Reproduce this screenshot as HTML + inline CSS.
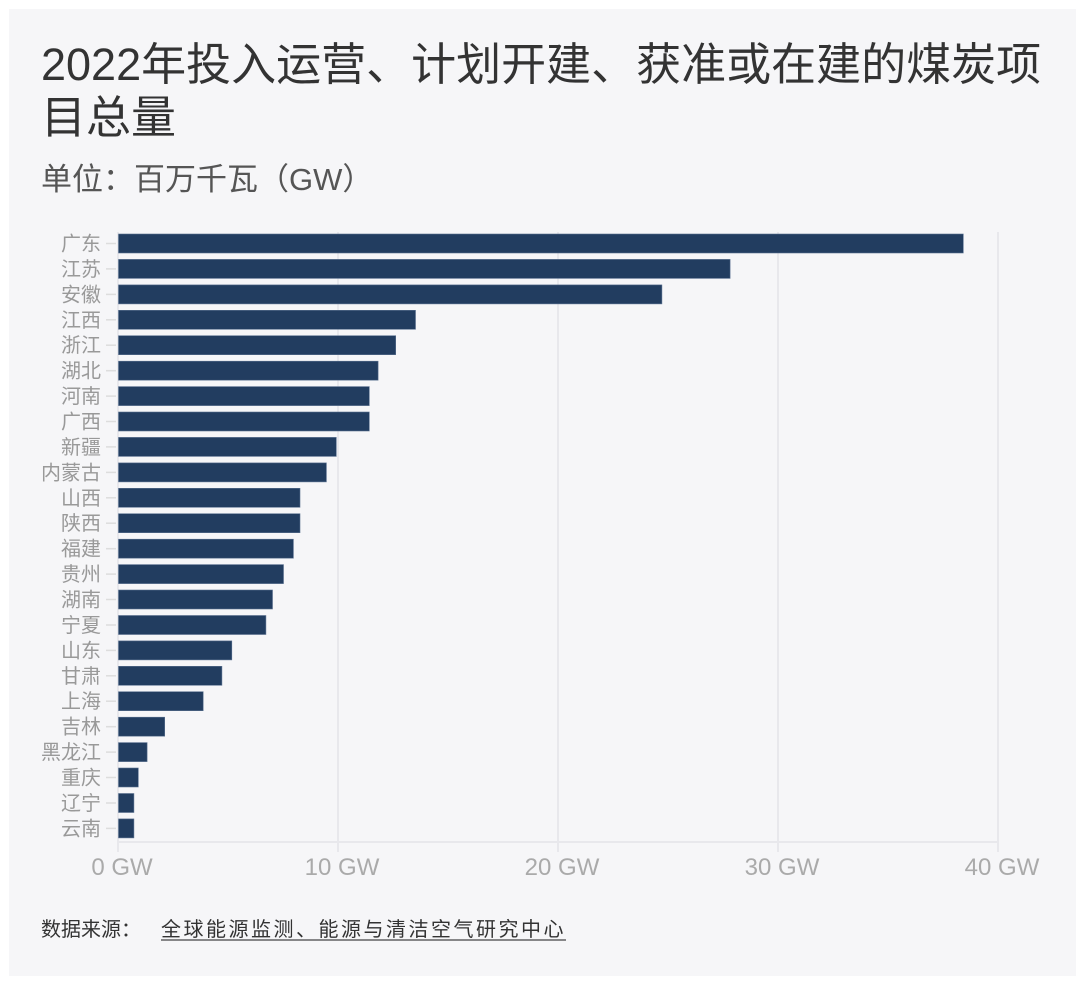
<!DOCTYPE html>
<html><head><meta charset="utf-8"><style>
html,body{margin:0;padding:0;background:#fff;}
svg{display:block;font-family:"Liberation Sans","Noto Sans CJK SC",sans-serif;}
</style></head><body>
<svg width="1080" height="985" viewBox="0 0 1080 985" xmlns="http://www.w3.org/2000/svg">
<rect x="9" y="9" width="1067" height="967" fill="#f6f6f8"/>
<text x="41" y="80" font-size="45" fill="#333">2022年投入运营、计划开建、获准或在建的煤炭项</text>
<text x="41" y="133" font-size="45" fill="#333">目总量</text>
<text x="41" y="190" font-size="31" fill="#555">单位：百万千瓦（GW）</text>
<g stroke="#e8e8ec" stroke-width="2">
<line x1="118" y1="232" x2="118" y2="852"/>
<line x1="338" y1="232" x2="338" y2="852"/>
<line x1="558" y1="232" x2="558" y2="852"/>
<line x1="778" y1="232" x2="778" y2="852"/>
<line x1="998" y1="232" x2="998" y2="852"/>
<line x1="118" y1="842" x2="998" y2="842"/>
</g>
<g fill="#223d60" stroke="#5a7190" stroke-width="0.6">
<rect x="118.5" y="234" width="844.8" height="19"/>
<rect x="118.5" y="259.4" width="611.6" height="19"/>
<rect x="118.5" y="284.9" width="543.4" height="19"/>
<rect x="118.5" y="310.3" width="297" height="19"/>
<rect x="118.5" y="335.7" width="277.2" height="19"/>
<rect x="118.5" y="361.2" width="259.6" height="19"/>
<rect x="118.5" y="386.6" width="250.8" height="19"/>
<rect x="118.5" y="412" width="250.8" height="19"/>
<rect x="118.5" y="437.4" width="217.8" height="19"/>
<rect x="118.5" y="462.9" width="207.9" height="19"/>
<rect x="118.5" y="488.3" width="181.5" height="19"/>
<rect x="118.5" y="513.7" width="181.5" height="19"/>
<rect x="118.5" y="539.2" width="174.9" height="19"/>
<rect x="118.5" y="564.6" width="165" height="19"/>
<rect x="118.5" y="590" width="154" height="19"/>
<rect x="118.5" y="615.5" width="147.4" height="19"/>
<rect x="118.5" y="640.9" width="113.3" height="19"/>
<rect x="118.5" y="666.3" width="103.4" height="19"/>
<rect x="118.5" y="691.7" width="84.7" height="19"/>
<rect x="118.5" y="717.2" width="46.2" height="19"/>
<rect x="118.5" y="742.6" width="28.6" height="19"/>
<rect x="118.5" y="768" width="19.8" height="19"/>
<rect x="118.5" y="793.5" width="15.4" height="19"/>
<rect x="118.5" y="818.9" width="15.4" height="19"/>
</g>
<g stroke="#ddd" stroke-width="1.5">
<line x1="106" x2="116" y1="243.5" y2="243.5"/><line x1="106" x2="116" y1="268.9" y2="268.9"/><line x1="106" x2="116" y1="294.4" y2="294.4"/><line x1="106" x2="116" y1="319.8" y2="319.8"/><line x1="106" x2="116" y1="345.2" y2="345.2"/><line x1="106" x2="116" y1="370.7" y2="370.7"/><line x1="106" x2="116" y1="396.1" y2="396.1"/><line x1="106" x2="116" y1="421.5" y2="421.5"/><line x1="106" x2="116" y1="446.9" y2="446.9"/><line x1="106" x2="116" y1="472.4" y2="472.4"/><line x1="106" x2="116" y1="497.8" y2="497.8"/><line x1="106" x2="116" y1="523.2" y2="523.2"/><line x1="106" x2="116" y1="548.7" y2="548.7"/><line x1="106" x2="116" y1="574.1" y2="574.1"/><line x1="106" x2="116" y1="599.5" y2="599.5"/><line x1="106" x2="116" y1="625" y2="625"/><line x1="106" x2="116" y1="650.4" y2="650.4"/><line x1="106" x2="116" y1="675.8" y2="675.8"/><line x1="106" x2="116" y1="701.2" y2="701.2"/><line x1="106" x2="116" y1="726.7" y2="726.7"/><line x1="106" x2="116" y1="752.1" y2="752.1"/><line x1="106" x2="116" y1="777.5" y2="777.5"/><line x1="106" x2="116" y1="803" y2="803"/><line x1="106" x2="116" y1="828.4" y2="828.4"/>
</g>
<g font-size="20" fill="#999" text-anchor="end">
<text x="101" y="250.5">广东</text><text x="101" y="275.9">江苏</text><text x="101" y="301.4">安徽</text><text x="101" y="326.8">江西</text><text x="101" y="352.2">浙江</text><text x="101" y="377.7">湖北</text><text x="101" y="403.1">河南</text><text x="101" y="428.5">广西</text><text x="101" y="453.9">新疆</text><text x="101" y="479.4">内蒙古</text><text x="101" y="504.8">山西</text><text x="101" y="530.2">陕西</text><text x="101" y="555.7">福建</text><text x="101" y="581.1">贵州</text><text x="101" y="606.5">湖南</text><text x="101" y="632">宁夏</text><text x="101" y="657.4">山东</text><text x="101" y="682.8">甘肃</text><text x="101" y="708.2">上海</text><text x="101" y="733.7">吉林</text><text x="101" y="759.1">黑龙江</text><text x="101" y="784.5">重庆</text><text x="101" y="810">辽宁</text><text x="101" y="835.4">云南</text>
</g>
<g font-size="24" fill="#aaa" text-anchor="middle">
<text x="122" y="875">0 GW</text><text x="342" y="875">10 GW</text><text x="562" y="875">20 GW</text><text x="782" y="875">30 GW</text><text x="1002" y="875">40 GW</text>
</g>
<text x="41" y="936" font-size="20" fill="#333">数据来源：</text>
<text x="161" y="936" font-size="20" fill="#333" letter-spacing="2.5">全球能源监测、能源与清洁空气研究中心</text>
<line x1="161" y1="940" x2="566" y2="940" stroke="#444" stroke-width="1.2"/>
</svg>
</body></html>
